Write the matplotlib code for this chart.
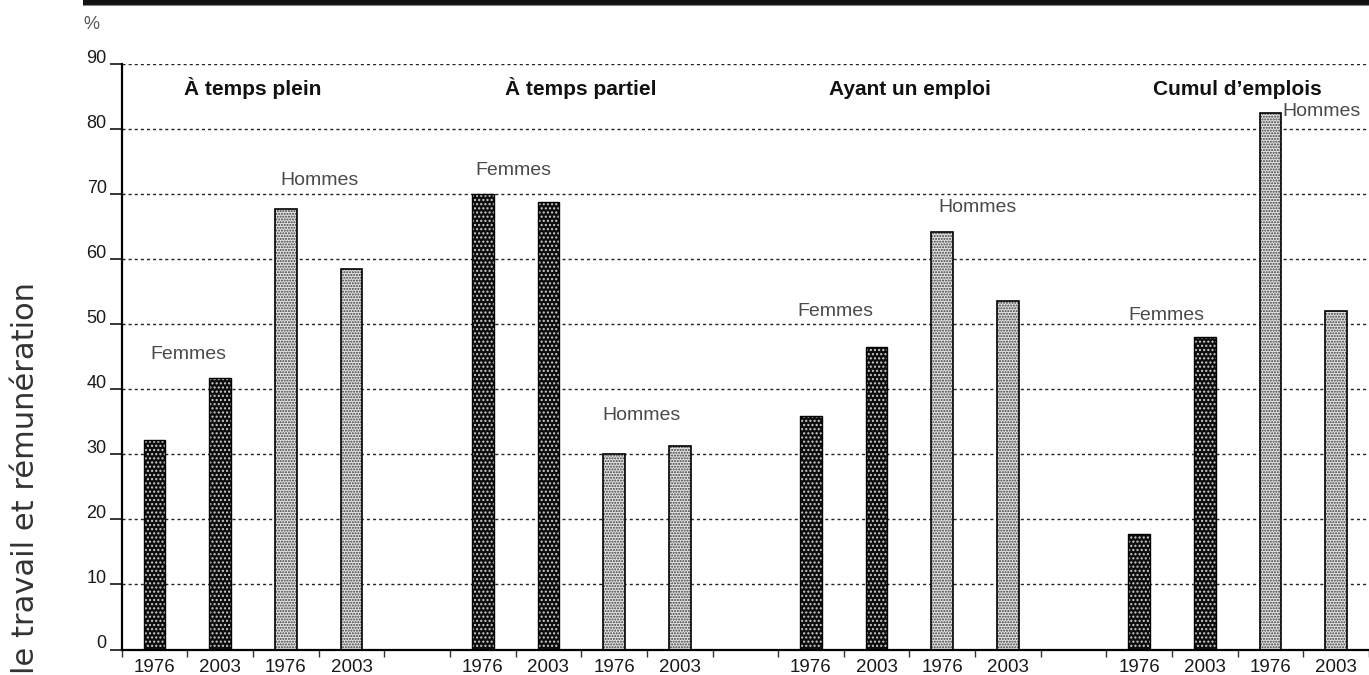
import matplotlib
matplotlib.use("Agg")
import matplotlib.pyplot as plt
from matplotlib.patches import Rectangle
from matplotlib.lines import Line2D
import numpy as np

plt.rcParams['font.family'] = ['Liberation Sans', 'DejaVu Sans']

# ---- data ----
categories = ['À temps plein', 'À temps partiel', 'Ayant un emploi', 'Cumul d’emplois']
years = ['1976', '2003']
femmes_1976 = [32.2, 70.0, 35.9, 17.8]
femmes_2003 = [41.8, 68.8, 46.5, 48.0]
hommes_1976 = [67.7, 30.0, 64.2, 82.5]
hommes_2003 = [58.5, 31.3, 53.6, 52.0]
yticks = [0, 10, 20, 30, 40, 50, 60, 70, 80, 90]

# label anchors (x in slot units, y in %)
femmes_lbl = [(0.52, 45.4), (5.47, 73.6), (10.37, 52.0), (15.42, 51.3)]
hommes_lbl = [(2.51, 72.1), (7.42, 36.0), (12.53, 68.0), (17.78, 82.8)]

W, H = 1369, 675
fig = plt.figure(figsize=(W / 100, H / 100), dpi=100)

x0, ybot, ytop = 121.7, 649.5, 64.3
ax = fig.add_axes([x0 / W, 1 - ybot / H, 1 - x0 / W, (ybot - ytop) / H])
ax.set_xlim(-0.5, 18.48)
ax.set_ylim(0, 90)

bw = 0.33
slots_per_group = 5
series = [(femmes_1976, 0, 'f'), (femmes_2003, 1, 'f'), (hommes_1976, 2, 'h'), (hommes_2003, 3, 'h')]
for vals, k, kind in series:
    pos = [g * slots_per_group + k for g in range(len(categories))]
    if kind == 'f':
        ax.bar(pos, vals, width=bw, facecolor='#0d0d0d', edgecolor='#cfcfcf',
               hatch='....', linewidth=0, zorder=3)
        ax.bar(pos, vals, width=bw, fill=False, edgecolor='black', linewidth=1.0, zorder=4)
    else:
        ax.bar(pos, vals, width=bw, facecolor='#e4e4e4', edgecolor='#3a3a3a',
               hatch='......', linewidth=0, zorder=3)
        ax.bar(pos, vals, width=bw, fill=False, edgecolor='black', linewidth=1.2, zorder=4)

# grid
for v in yticks[1:]:
    ax.axhline(v, color='#222222', lw=1.0, ls=(0, (2.2, 2.2)), zorder=1)

for s in ['top', 'right']:
    ax.spines[s].set_visible(False)
ax.spines['left'].set_linewidth(1.6)
ax.spines['bottom'].set_linewidth(1.6)
ax.spines['left'].set_zorder(5)
ax.spines['bottom'].set_zorder(5)

# y ticks
ax.set_yticks(yticks)
ax.set_yticklabels([])
ax.tick_params(axis='y', direction='out', length=8.6, width=1.1, color='black')
for v in yticks:
    ax.annotate(str(v), xy=(0, v), xycoords=('axes fraction', 'data'),
                xytext=(-10.8, 0.8), textcoords='offset points',
                ha='right', va='baseline', fontsize=13, color='#1a1a1a')

# x ticks
tick_pos = []
tick_lbl = []
for g in range(len(categories)):
    for k in range(4):
        tick_pos.append(g * slots_per_group + k)
        tick_lbl.append(years[k % 2])
ax.set_xticks(tick_pos)
ax.set_xticklabels(tick_lbl, fontsize=13.5, color='#1a1a1a')
ax.tick_params(axis='x', which='major', length=0, pad=7.0)
ax.set_xticks(np.arange(-0.5, 19, 1.0), minor=True)
ax.tick_params(axis='x', which='minor', direction='out', length=5, width=1.0, color='#333333')

# group titles
for g, cat in enumerate(categories):
    ax.text(g * slots_per_group + 1.5, 85.3, cat, ha='center', va='baseline',
            fontsize=15, fontweight='bold', color='#111111', zorder=6)

for (x, y) in femmes_lbl:
    ax.text(x, y, 'Femmes', ha='center', va='center', fontsize=14, color='#4a4a4a', zorder=6)
for (x, y) in hommes_lbl:
    ax.text(x, y, 'Hommes', ha='center', va='center', fontsize=14, color='#4a4a4a', zorder=6)

# % label
fig.text(83 / W, 1 - 29 / H, '%', ha='left', va='baseline', fontsize=13, color='#555555')

# top black band
fig.add_artist(Rectangle((82.7 / W, 1 - 4.5 / H), 1, 4.5 / H, transform=fig.transFigure,
                         facecolor='#111111', edgecolor='none'))
fig.add_artist(Line2D([82.7 / W, 1], [1 - 5.2 / H, 1 - 5.2 / H], transform=fig.transFigure,
                      color='#888888', lw=0.8))

# side text (cut off at the bottom edge, as in the reference)
fig.text(26 / W, 1 - 282 / H, 'le travail et rémunération', rotation=90,
         rotation_mode='anchor', ha='right', va='center', fontsize=22,
         family=['DejaVu Sans'], color='#333333')

fig.savefig('out.png', dpi=100)
